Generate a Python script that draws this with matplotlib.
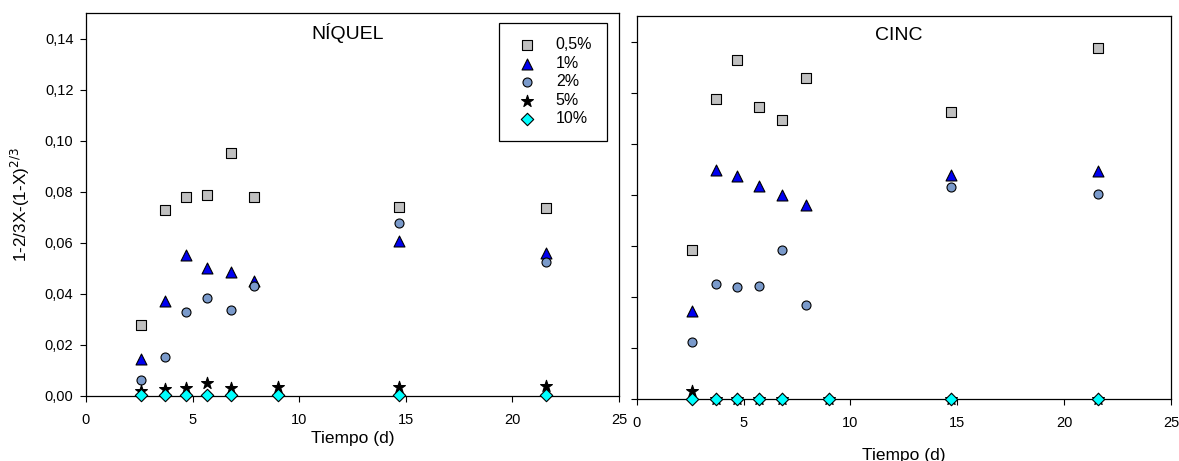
import numpy as np
import matplotlib
matplotlib.use("Agg")
import matplotlib.pyplot as plt

plt.rcParams['font.family'] = ['Liberation Sans', 'DejaVu Sans']

# dias de muestreo
t_a = [2.6, 3.7, 4.7, 5.7, 6.8, 7.9, 14.7, 21.6]
t_b = [2.6, 3.7, 4.7, 5.7, 6.8, 9.0, 14.7, 21.6]

# NIQUEL
ni_05 = [0.028, 0.0728, 0.0778, 0.0788, 0.0952, 0.078, 0.0739, 0.0735]
ni_1 = [0.0146, 0.0372, 0.0552, 0.0502, 0.0485, 0.0449, 0.0607, 0.0562]
ni_2 = [0.0064, 0.0152, 0.0329, 0.0385, 0.0338, 0.0429, 0.0677, 0.0525]
ni_5 = [0.0020, 0.0026, 0.0031, 0.0052, 0.0031, 0.0034, 0.0034, 0.0039]
ni_10 = [0.0003, 0.0003, 0.0003, 0.0002, 0.0003, 0.0003, 0.0003, 0.0002]

# CINC
zn_05 = [0.0585, 0.1175, 0.1328, 0.1142, 0.1093, 0.1257, 0.1125, 0.1373]
zn_1 = [0.0343, 0.0898, 0.0875, 0.0835, 0.0800, 0.0760, 0.0877, 0.0893]
zn_2 = [0.0222, 0.0452, 0.0440, 0.0442, 0.0585, 0.0368, 0.0832, 0.0803]
zn_5 = [0.0030, 0.0, 0.0, 0.0, 0.0, 0.0, 0.0, 0.0]
zn_10 = [0.0, 0.0, 0.0, 0.0, 0.0, 0.0, 0.0, 0.0]

labels = ['0,5%', '1%', '2%', '5%', '10%']
marcas = ['s', '^', 'o', '*', 'D']
colores = ['#c0c0c0', '#0000f0', '#7a9acb', 'black', '#00ffff']
tamanos = [42, 62, 42, 80, 40]

fig = plt.figure(figsize=(11.79, 4.61), dpi=100)
ax1 = fig.add_axes([0.0729, 0.141, 0.4521, 0.8308])
ax2 = fig.add_axes([0.5401, 0.1345, 0.4531, 0.8308])

datos = [
    (ax1, [t_a, t_a, t_a, t_b, t_b], [ni_05, ni_1, ni_2, ni_5, ni_10], 'NÍQUEL'),
    (ax2, [t_a, t_a, t_a, t_b, t_b], [zn_05, zn_1, zn_2, zn_5, zn_10], 'CINC'),
]

for ax, xs, ys, titulo in datos:
    for i in range(5):
        ax.scatter(xs[i], ys[i], marker=marcas[i], s=tamanos[i], c=colores[i],
                   edgecolors='black', linewidths=0.8, clip_on=False, zorder=3 + i,
                   label=labels[i])
    ax.set_xlim(0, 25)
    ax.set_ylim(0, 0.15)
    ax.set_xticks([0, 5, 10, 15, 20, 25])
    ax.set_yticks(np.arange(0, 0.141, 0.02))
    ax.tick_params(direction='out', length=4, width=0.8, labelsize=10.5)
    ax.tick_params(axis='x', pad=8)
    ax.tick_params(axis='y', pad=5)
    for s in ax.spines.values():
        s.set_linewidth(0.9)
    ax.text(0.49, 0.948, titulo, transform=ax.transAxes, ha='center', va='center',
            fontsize=14)

ax1.set_yticklabels([('%.2f' % v).replace('.', ',') for v in np.arange(0, 0.141, 0.02)])
ax2.set_yticklabels([])

ax1.set_xlabel('Tiempo (d)', fontsize=12.5, labelpad=3)
ax2.set_xlabel('Tiempo (d)', fontsize=12.5, labelpad=13)
ax1.set_ylabel(r'1-2/3X-(1-X)$^{2/3}$', fontsize=12.3, labelpad=9)

leg = ax1.legend(loc='upper right', bbox_to_anchor=(0.977, 0.974), borderaxespad=0,
                 fontsize=11.5, fancybox=False, edgecolor='black', framealpha=1,
                 labelspacing=0.22, handletextpad=0.95, borderpad=0.9, handlelength=1.7)
leg.get_frame().set_linewidth(0.9)

fig.savefig('out.png', dpi=100)
